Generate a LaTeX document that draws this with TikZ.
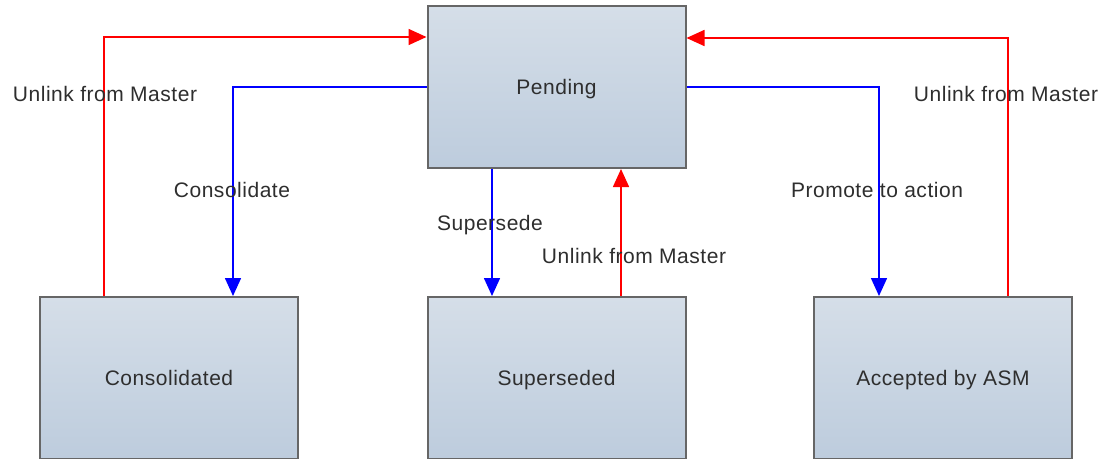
\documentclass[tikz,border=0pt]{standalone}
\usepackage{fontspec}
\setmainfont{Liberation Sans}
\newfontfamily\labfont[LetterSpace=2.5]{Liberation Sans}
\usetikzlibrary{arrows.meta}
\definecolor{boxtop}{HTML}{D5DEE8}
\definecolor{boxbot}{HTML}{BDCCDD}
\definecolor{boxline}{HTML}{666666}
\definecolor{txt}{HTML}{2E2E2E}
\tikzset{
  state/.style={rectangle, draw=boxline, line width=2pt, top color=boxtop, bottom color=boxbot,
    minimum width=258pt, minimum height=162pt, inner sep=0pt, text=txt,
    text height=15pt, text depth=0pt,
    font=\labfont\fontsize{21}{25}\selectfont},
  lbl/.style={text=txt, inner sep=0pt, text height=15pt, text depth=0pt,
    font=\labfont\fontsize{21}{25}\selectfont},
  redarr/.style={draw=red, line width=1.6pt, -{Triangle[length=18pt,width=16pt]}},
  bluearr/.style={draw=blue, line width=1.6pt, -{Triangle[length=18pt,width=16pt]}},
}
\begin{document}
\begin{tikzpicture}[x=1pt,y=-1pt]
\useasboundingbox (0,0) rectangle (1106,458);
\clip (0,0) rectangle (1106,458);
\fill[white] (0,0) rectangle (1106,458);
\node[state] (pend) at (556.5,87) {Pending};
\node[state] (cons) at (169,378) {Consolidated};
\node[state] (sup) at (556.5,378) {Superseded};
\node[state] (acc) at (943,378) {Accepted by ASM};
\coordinate (lr) at (104,37);
\coordinate (lb) at (233,87);
\coordinate (mb) at (492,0);
\coordinate (mr) at (621,0);
\coordinate (rb) at (879,87);
\coordinate (rr) at (1008,38);
\draw[redarr] (cons.north -| lr) |- (pend.west |- lr);
\draw[bluearr] (pend.west |- lb) -| (cons.north -| lb);
\draw[bluearr] (pend.south -| mb) -- (sup.north -| mb);
\draw[redarr] (sup.north -| mr) -- (pend.south -| mr);
\draw[bluearr] (pend.east |- rb) -| (acc.north -| rb);
\draw[redarr] (acc.north -| rr) |- (pend.east |- rr);
\node[lbl] (l1) at (105,94) {Unlink from Master};
\node[lbl] (l2) at (232,190) {Consolidate};
\node[lbl] (l3) at (490,223) {Supersede};
\node[lbl] (l4) at (634,256) {Unlink from Master};
\node[lbl] (l5) at (877,190) {Promote to action};
\node[lbl] (l6) at (1006,94) {Unlink from Master};
\end{tikzpicture}
\end{document}
